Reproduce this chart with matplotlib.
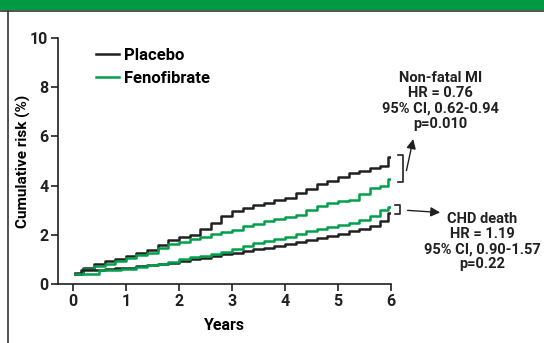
import numpy as np
import matplotlib.pyplot as plt
from matplotlib.patches import Rectangle
from matplotlib.lines import Line2D

plt.rcParams['font.family'] = ['Roboto', 'DejaVu Sans']
plt.rcParams['font.weight'] = 'bold'

GREEN = '#00a04a'
BLACK = '#231f20'

# cumulative risk (%), step-post
t_plac_mi = [0.05, 0.2, 0.4, 0.6, 0.8, 1.0, 1.2, 1.4, 1.6, 1.8, 2.0, 2.2, 2.4, 2.6, 2.8, 3.0,
             3.2, 3.4, 3.6, 3.8, 4.0, 4.2, 4.4, 4.6, 4.8, 5.0, 5.2, 5.4, 5.6, 5.8, 5.95, 6.0]
v_plac_mi = [0.45, 0.65, 0.8, 0.92, 1.0, 1.12, 1.25, 1.38, 1.6, 1.78, 1.9, 2.0, 2.25, 2.5, 2.75, 2.95,
             3.1, 3.2, 3.3, 3.4, 3.5, 3.7, 3.85, 4.05, 4.2, 4.35, 4.5, 4.6, 4.7, 4.8, 5.15, 5.15]

t_feno_mi = [0.05, 0.2, 0.4, 0.6, 0.8, 1.0, 1.2, 1.4, 1.6, 1.8, 2.0, 2.2, 2.4, 2.6, 2.8, 3.0,
             3.2, 3.4, 3.6, 3.8, 4.0, 4.2, 4.4, 4.6, 4.8, 5.0, 5.2, 5.4, 5.6, 5.8, 5.95, 6.0]
v_feno_mi = [0.4, 0.6, 0.72, 0.82, 0.92, 1.07, 1.18, 1.25, 1.45, 1.62, 1.72, 1.82, 1.92, 2.05, 2.12, 2.2,
             2.35, 2.45, 2.55, 2.65, 2.72, 2.82, 3.0, 3.18, 3.3, 3.38, 3.42, 3.65, 3.9, 4.0, 4.25, 4.25]

t_plac_chd = [0.05, 0.15, 0.4, 0.6, 0.8, 1.0, 1.2, 1.4, 1.6, 1.8, 2.0, 2.2, 2.4, 2.6, 2.8, 3.0,
              3.2, 3.4, 3.6, 3.8, 4.0, 4.2, 4.4, 4.6, 4.8, 5.0, 5.2, 5.4, 5.6, 5.8, 5.95, 6.0]
v_plac_chd = [0.4, 0.55, 0.58, 0.6, 0.65, 0.67, 0.72, 0.78, 0.82, 0.85, 0.94, 1.0, 1.05, 1.12, 1.2, 1.27,
              1.35, 1.42, 1.48, 1.55, 1.61, 1.7, 1.8, 1.88, 1.95, 2.04, 2.15, 2.22, 2.35, 2.55, 2.87, 2.87]

t_feno_chd = [0.05, 0.5, 0.7, 0.9, 1.0, 1.2, 1.4, 1.6, 1.8, 2.0, 2.2, 2.4, 2.6, 2.8, 3.0,
              3.2, 3.4, 3.6, 3.8, 4.0, 4.2, 4.4, 4.6, 4.8, 5.0, 5.2, 5.4, 5.6, 5.8, 5.95, 6.0]
v_feno_chd = [0.4, 0.55, 0.58, 0.62, 0.63, 0.7, 0.77, 0.82, 0.88, 1.03, 1.1, 1.15, 1.2, 1.3, 1.44,
              1.55, 1.65, 1.74, 1.82, 1.9, 2.05, 2.15, 2.22, 2.32, 2.38, 2.5, 2.6, 2.75, 3.0, 3.11, 3.11]

x_ticks = [0, 1, 2, 3, 4, 5, 6]
y_ticks = [0, 2, 4, 6, 8, 10]

mi_text = 'Non-fatal MI\nHR = 0.76\n95% CI, 0.62-0.94\np=0.010'
chd_text = 'CHD death\nHR = 1.19\n95% CI, 0.90-1.57\np=0.22'

fig = plt.figure(figsize=(5.44, 3.43), dpi=100)

# header band and left frame line
fig.patches.append(Rectangle((0, 1 - 10 / 343), 1, 10 / 343, transform=fig.transFigure,
                             facecolor='#009a44', edgecolor='none'))
fig.lines.append(Line2D([0, 1], [1 - 10.5 / 343] * 2, transform=fig.transFigure,
                        color='#333333', lw=1.2))
fig.lines.append(Line2D([8 / 544] * 2, [0, 1 - 10.5 / 343], transform=fig.transFigure,
                        color='#333333', lw=1.2))

ax = fig.add_axes([58 / 544, 59 / 343, 333 / 544, 246 / 343])
ax.plot(t_plac_mi, v_plac_mi, drawstyle='steps-post', color=BLACK, lw=1.8, label='Placebo')
ax.plot(t_feno_mi, v_feno_mi, drawstyle='steps-post', color=GREEN, lw=1.8, label='Fenofibrate')
ax.plot(t_plac_chd, v_plac_chd, drawstyle='steps-post', color=BLACK, lw=1.8)
ax.plot(t_feno_chd, v_feno_chd, drawstyle='steps-post', color=GREEN, lw=1.8)

ax.set_xlim(-0.28, 6)
ax.set_ylim(0, 10)
ax.set_xticks(x_ticks)
ax.set_yticks(y_ticks)
for s in ['top', 'right']:
    ax.spines[s].set_visible(False)
for s in ['left', 'bottom']:
    ax.spines[s].set_linewidth(1.2)
    ax.spines[s].set_color(BLACK)
ax.tick_params(direction='out', length=5, width=1.2, labelsize=11.5, colors=BLACK, pad=2)
ax.set_xlabel('Years', fontsize=11.5, fontweight='bold', labelpad=7)
ax.set_ylabel('Cumulative risk (%)', fontsize=11, fontweight='bold', labelpad=-1)

leg = ax.legend(loc='upper left', bbox_to_anchor=(0.07, 1.02), frameon=False,
                fontsize=12, handlelength=1.35, handletextpad=0.3, labelspacing=0.45)

# brackets and annotations
def bracket(y0, y1, x):
    ax.plot([x - 0.1, x, x, x - 0.1], [y1, y1, y0, y0], color=BLACK, lw=1.2,
            clip_on=False)

bracket(4.15, 5.24, 6.23)
bracket(2.85, 3.2, 6.17)

ax.annotate('', xy=(6.43, 6.0), xytext=(6.28, 4.5), xycoords='data',
            arrowprops=dict(arrowstyle='-|>', color=BLACK, lw=1.0, mutation_scale=14),
            annotation_clip=False)
ax.annotate('', xy=(6.98, 2.9), xytext=(6.26, 3.0), xycoords='data',
            arrowprops=dict(arrowstyle='-|>', color=BLACK, lw=1.0, mutation_scale=14),
            annotation_clip=False)

ax.text(6.93, 8.65, mi_text, ha='center', va='top', fontsize=10.5, fontweight='bold',
        linespacing=1.1, color=BLACK, clip_on=False)
ax.text(7.72, 2.92, chd_text, ha='center', va='top', fontsize=10.5, fontweight='bold',
        linespacing=1.1, color=BLACK, clip_on=False)

fig.savefig('out.png', dpi=100)
